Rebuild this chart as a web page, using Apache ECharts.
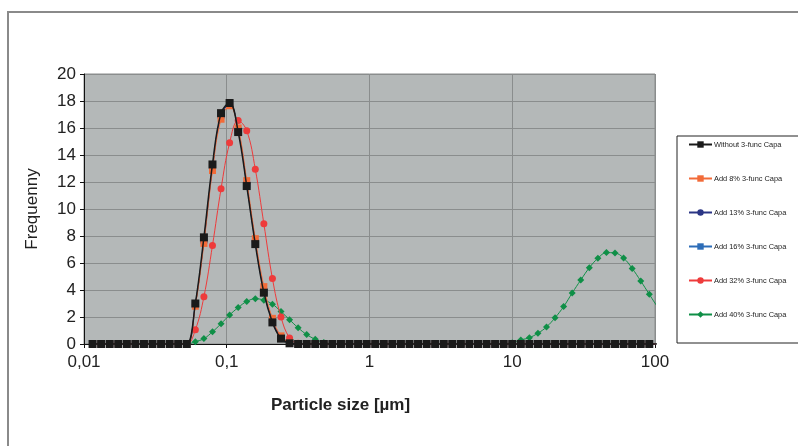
<!DOCTYPE html>
<html lang="en" style="height: 100%">
  <head>
    <meta charset="utf-8" />
    <script src="https://cdn.jsdelivr.net/npm/echarts@6/dist/echarts.min.js"></script>
  </head>
  <body style="height: 100%; margin: 0; background: #fff">
    <div id="container" style="width: 798px; height: 446px"></div>
    <script type="text/javascript">
      // particle size classes [µm], log spaced (last one lies past the axis end)
      var sizes = [
        0.011482, 0.013183, 0.015136, 0.017378, 0.019953, 0.022909, 0.026303, 0.0302, 0.034674,
        0.039811, 0.045709, 0.052481, 0.060256, 0.069183, 0.079433, 0.091201, 0.10471, 0.12023, 0.13804,
        0.15849, 0.18197, 0.20893, 0.23988, 0.27542, 0.31623, 0.36308, 0.41687, 0.47863, 0.54954,
        0.63096, 0.72444, 0.83176, 0.95499, 1.0965, 1.2589, 1.4454, 1.6596, 1.9055, 2.1878,
        2.5119, 2.884, 3.3113, 3.8019, 4.3652, 5.0119, 5.7544, 6.6069, 7.5858, 8.7096,
        10, 11.482, 13.183, 15.136, 17.378, 19.953, 22.909, 26.303, 30.2, 34.674,
        39.811, 45.709, 52.481, 60.256, 69.183, 79.433, 91.201, 104.71
      ];

      var seriesNames = [
        "Without 3-func Capa",
        "Add 8% 3-func Capa",
        "Add 13% 3-func Capa",
        "Add 16% 3-func Capa",
        "Add 32% 3-func Capa",
        "Add 40% 3-func Capa"
      ];

      var without = [
        0, 0, 0, 0, 0, 0, 0, 0, 0, 0, 0, 0, 3.0, 7.9, 13.3, 17.1, 17.85, 15.7, 11.7,
        7.4, 3.8, 1.6, 0.4, 0.05, 0, 0, 0, 0, 0, 0, 0, 0, 0, 0, 0, 0, 0, 0, 0,
        0, 0, 0, 0, 0, 0, 0, 0, 0, 0, 0, 0, 0, 0, 0, 0, 0, 0, 0, 0,
        0, 0, 0, 0, 0, 0, 0, 0
      ];
      var add8 = [
        0, 0, 0, 0, 0, 0, 0, 0, 0, 0, 0, 0, 2.8, 7.45, 12.85, 16.65, 17.65, 16.0, 12.1,
        7.8, 4.25, 1.9, 0.6, 0.1, 0, 0, 0, 0, 0, 0, 0, 0, 0, 0, 0, 0, 0, 0, 0,
        0, 0, 0, 0, 0, 0, 0, 0, 0, 0, 0, 0, 0, 0, 0, 0, 0, 0, 0, 0,
        0, 0, 0, 0, 0, 0, 0, 0
      ];
      var add13 = [
        0, 0, 0, 0, 0, 0, 0, 0, 0, 0, 0, 0, 2.9, 7.6, 13.0, 16.9, 17.75, 15.9, 11.9,
        7.6, 4.0, 1.75, 0.5, 0.08, 0, 0, 0, 0, 0, 0, 0, 0, 0, 0, 0, 0, 0, 0, 0,
        0, 0, 0, 0, 0, 0, 0, 0, 0, 0, 0, 0, 0, 0, 0, 0, 0, 0, 0, 0,
        0, 0, 0, 0, 0, 0, 0, 0
      ];
      var add16 = [
        0, 0, 0, 0, 0, 0, 0, 0, 0, 0, 0, 0, 2.95, 7.7, 13.1, 16.95, 17.8, 15.8, 11.8,
        7.5, 3.9, 1.7, 0.45, 0.06, 0, 0, 0, 0, 0, 0, 0, 0, 0, 0, 0, 0, 0, 0, 0,
        0, 0, 0, 0, 0, 0, 0, 0, 0, 0, 0, 0, 0, 0, 0, 0, 0, 0, 0, 0,
        0, 0, 0, 0, 0, 0, 0, 0
      ];
      var add32 = [
        0, 0, 0, 0, 0, 0, 0, 0, 0, 0, 0, 0, 1.05, 3.5, 7.3, 11.5, 14.9, 16.55, 15.8,
        12.95, 8.9, 4.85, 2.0, 0.45, 0.05, 0, 0, 0, 0, 0, 0, 0, 0, 0, 0, 0, 0, 0, 0,
        0, 0, 0, 0, 0, 0, 0, 0, 0, 0, 0, 0, 0, 0, 0, 0, 0, 0, 0, 0,
        0, 0, 0, 0, 0, 0, 0, 0
      ];
      var add40 = [
        0, 0, 0, 0, 0, 0, 0, 0, 0, 0, 0, 0, 0.17, 0.4, 0.9, 1.5, 2.15, 2.7, 3.15,
        3.35, 3.25, 2.95, 2.4, 1.8, 1.2, 0.7, 0.35, 0.12, 0.02, 0, 0, 0, 0, 0, 0, 0, 0, 0, 0,
        0, 0, 0, 0, 0, 0, 0, 0, 0, 0.02, 0.1, 0.3, 0.47, 0.8, 1.26, 1.95, 2.77, 3.78, 4.74, 5.65,
        6.35, 6.77, 6.74, 6.37, 5.6, 4.67, 3.68, 2.7
      ];

      function pairs(values) {
        var res = [];
        for (var i = 0; i < values.length; i++) {
          res.push([sizes[i], values[i]]);
        }
        return res;
      }

      var dom = document.getElementById("container");
      var myChart = echarts.init(dom, null, { renderer: "canvas" });

      var font = "'Liberation Sans', Arial, sans-serif";

      function lineSeries(idx, values, color, symbol, size, width, z) {
        return {
          name: seriesNames[idx],
          type: "line",
          data: pairs(values),
          smooth: 0.4,
          symbol: symbol,
          symbolSize: size,
          showAllSymbol: true,
          clip: true,
          z: z,
          lineStyle: { color: color, width: width },
          itemStyle: { color: color, borderWidth: 0 },
          emphasis: { disabled: true }
        };
      }

      var option = {
        animation: false,
        backgroundColor: "#ffffff",
        graphic: [
          {
            type: "rect",
            shape: { x: 8, y: 12, width: 820, height: 460 },
            style: { fill: "none", stroke: "#8a8a8a", lineWidth: 2 },
            z: -10
          }
        ],
        legend: {
          orient: "vertical",
          left: 677,
          top: 136,
          padding: [4, 40, 24, 11],
          itemWidth: 23,
          itemHeight: 8,
          itemGap: 25,
          backgroundColor: "#ffffff",
          borderColor: "#222222",
          borderWidth: 1,
          borderRadius: 0,
          textStyle: {
            fontSize: 7.4,
            fontFamily: font,
            color: "#222",
            lineHeight: 9,
            padding: [0, 0, 0, -3]
          },
          data: seriesNames
        },
        grid: {
          left: 84,
          top: 74,
          width: 571,
          height: 270,
          show: true,
          backgroundColor: "#b4b8b8",
          borderColor: "#8a8d8d",
          borderWidth: 1
        },
        xAxis: {
          type: "log",
          logBase: 10,
          min: 0.01,
          max: 100,
          name: "Particle size [µm]",
          nameLocation: "middle",
          nameGap: 53,
          nameTextStyle: {
            fontSize: 17,
            fontWeight: "bold",
            fontFamily: font,
            color: "#222",
            padding: [0, 58, 0, 0]
          },
          axisLine: { lineStyle: { color: "#111", width: 1 } },
          axisTick: { show: true, length: 4, lineStyle: { color: "#111" } },
          axisLabel: {
            fontSize: 17,
            fontFamily: font,
            color: "#222",
            margin: 10,
            showMinLabel: true,
            showMaxLabel: true,
            formatter: function (v) {
              return String(Number(v.toPrecision(6))).replace(".", ",");
            }
          },
          splitLine: { show: true, lineStyle: { color: "#8a8d8d", width: 1 } },
          minorTick: { show: false }
        },
        yAxis: {
          type: "value",
          min: 0,
          max: 20,
          interval: 2,
          name: "Frequenny",
          nameLocation: "middle",
          nameGap: 43,
          nameTextStyle: { fontSize: 17, fontFamily: font, color: "#222" },
          axisLine: { show: true, lineStyle: { color: "#111", width: 1 } },
          axisTick: { show: true, length: 4, lineStyle: { color: "#111" } },
          axisLabel: { fontSize: 17, fontFamily: font, color: "#222", margin: 8 },
          splitLine: { show: true, lineStyle: { color: "#8a8d8d", width: 1 } }
        },
        series: [
          lineSeries(0, without, "#1a1a1a", "rect", 8, 1.5, 9),
          lineSeries(1, add8, "#f26b38", "rect", 7, 1, 8),
          lineSeries(2, add13, "#2b3585", "circle", 7, 1, 6),
          lineSeries(3, add16, "#2d6db8", "rect", 7, 1, 5),
          lineSeries(4, add32, "#ee3b3b", "circle", 7, 1, 4),
          lineSeries(5, add40, "#0f8f47", "diamond", 7, 1, 3)
        ]
      };

      myChart.setOption(option);
      window.addEventListener("resize", myChart.resize);
    </script>
  </body>
</html>
